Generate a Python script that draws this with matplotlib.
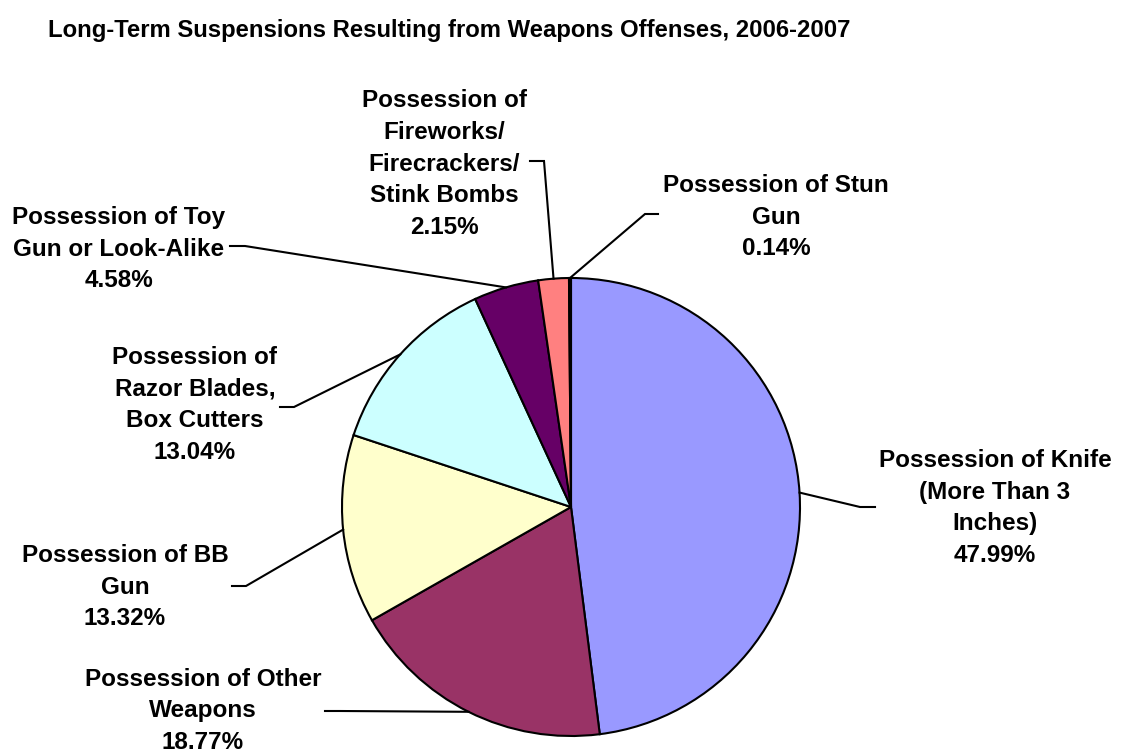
import numpy as np
import matplotlib
matplotlib.use("Agg")
import matplotlib.pyplot as plt

title = "Long-Term Suspensions Resulting from Weapons Offenses, 2006-2007"
categories = [
    "Possession of Knife\n(More Than 3\nInches)",
    "Possession of Other\nWeapons",
    "Possession of BB\nGun",
    "Possession of\nRazor Blades,\nBox Cutters",
    "Possession of Toy\nGun or Look-Alike",
    "Possession of\nFireworks/\nFirecrackers/\nStink Bombs",
    "Possession of Stun\nGun",
]
values = [47.99, 18.77, 13.32, 13.04, 4.58, 2.15, 0.14]
colors = ["#9999FF", "#993366", "#FFFFCC", "#CCFFFF", "#660066", "#FF8080", "#0066CC"]

# layout (pixels): label centers, leader bend point, leader end near text
W, H = 1121, 753
CX, CY, R = 571, 507, 229
label_pos = [(995, 508), (203, 711), (125, 587), (195, 405), (119, 249), (444, 164), (776, 217)]
bend_pos = [(860, 507), (340, 711), (246, 586), (294, 407), (245, 246), (544, 161), (645, 214)]
end_pos = [(875, 507), (325, 711), (232, 586), (280, 407), (230, 246), (530, 161), (658, 214)]

plt.rcParams['font.family'] = ['Liberation Sans', 'DejaVu Sans']

fig = plt.figure(figsize=(W / 100, H / 100), dpi=100)
ax = fig.add_axes([(CX - R) / W, (H - CY - R) / H, 2 * R / W, 2 * R / H])
wedges, _ = ax.pie(values, colors=colors, startangle=90, counterclock=False,
                   radius=1.0, wedgeprops=dict(edgecolor="black", linewidth=1.5))
ax.set_xlim(-1, 1)
ax.set_ylim(-1, 1)
ax.set_aspect("equal")
ax.axis("off")

def to_data(p):
    return ((p[0] - CX) / R, (CY - p[1]) / R)

for w, cat, val, lp, bp, ep in zip(wedges, categories, values, label_pos, bend_pos, end_pos):
    ang = np.deg2rad((w.theta1 + w.theta2) / 2)
    anchor = (np.cos(ang), np.sin(ang))
    b = to_data(bp)
    e = to_data(ep)
    ax.plot([e[0], b[0], anchor[0]], [e[1], b[1], anchor[1]], color="black",
            lw=1.5, clip_on=False, solid_joinstyle="miter")
    t = to_data(lp)
    ax.text(t[0], t[1], f"{cat}\n{val:.2f}%", ha="center", va="center",
            fontsize=17.5, fontweight="bold", linespacing=1.49, clip_on=False)

fig.text(449 / W, 1 - 31 / H, title, ha="center", va="center",
         fontsize=17.2, fontweight="bold")

fig.savefig("out.png", dpi=100, facecolor="white")
